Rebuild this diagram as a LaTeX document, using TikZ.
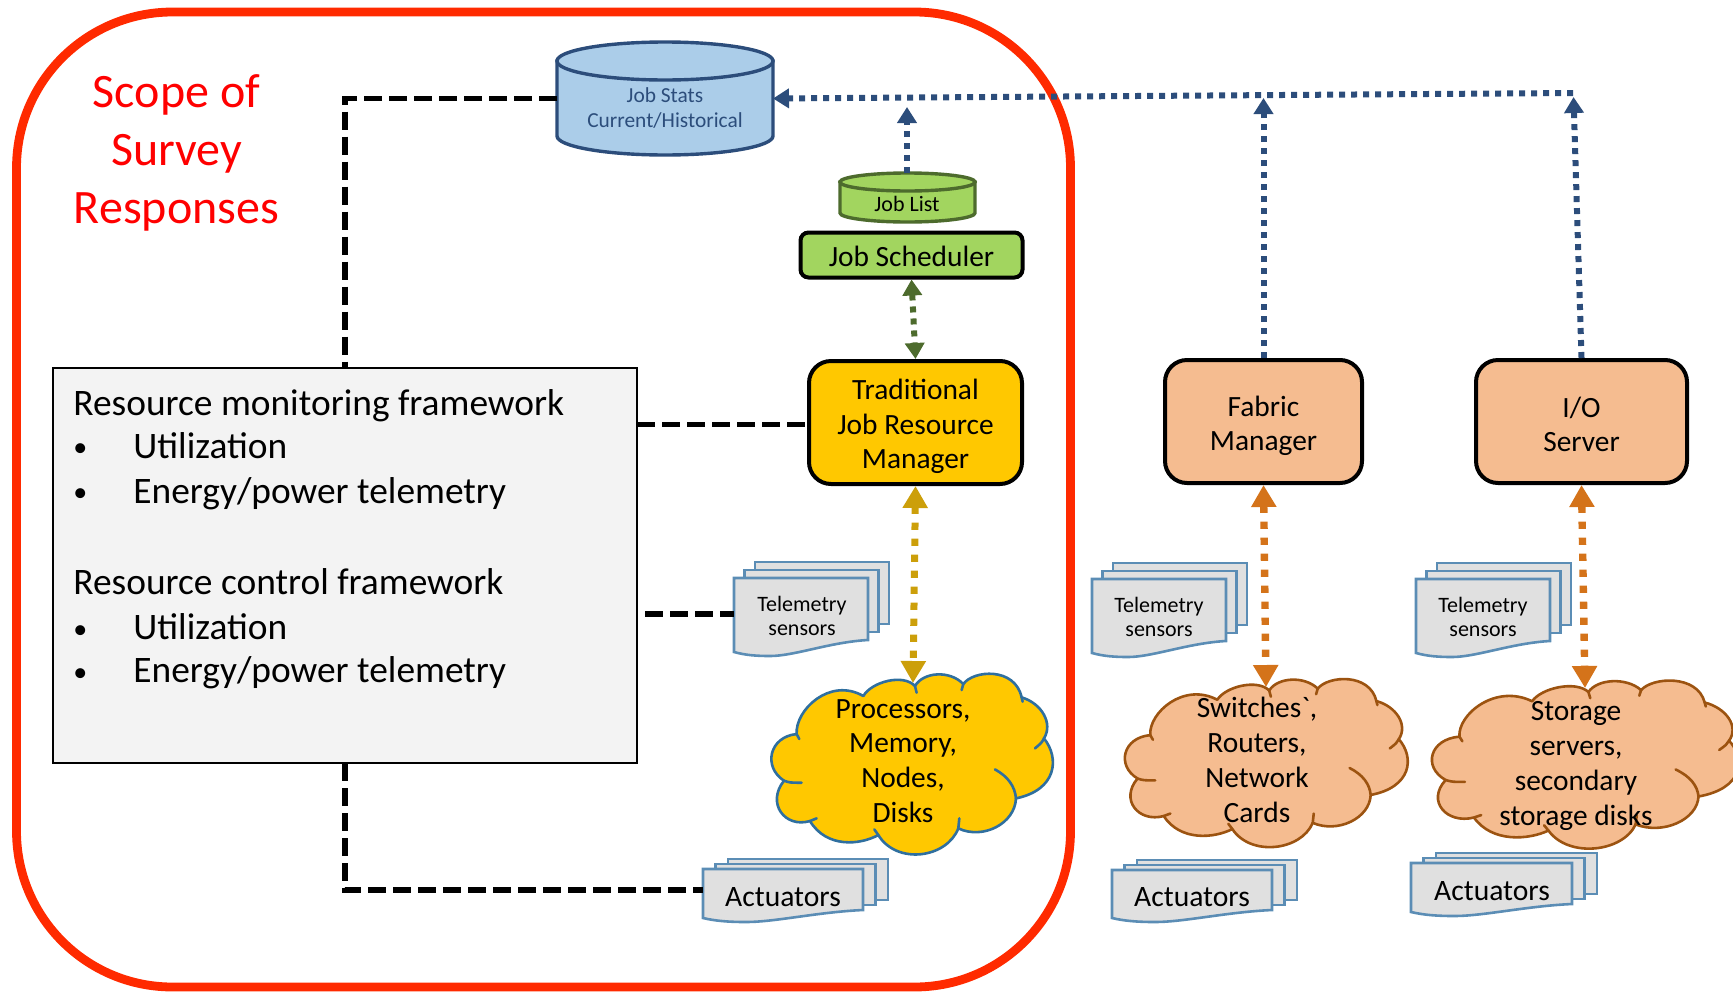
\documentclass[tikz,border=0pt]{standalone}
\usepackage{fontspec}
\setmainfont{Carlito}
\newfontfamily\rawf{Carlito}
\usetikzlibrary{arrows.meta,calc}
\definecolor{redline}{HTML}{FF2A00}
\definecolor{statsfill}{HTML}{ABCDE9}
\definecolor{bluedk}{HTML}{2C4D7B}
\definecolor{greenfill}{HTML}{A2D55F}
\definecolor{greendk}{HTML}{4D6B2D}
\definecolor{goldfill}{HTML}{FFC800}
\definecolor{golddk}{HTML}{CC9F0A}
\definecolor{peach}{HTML}{F5BC90}
\definecolor{orangedk}{HTML}{D4731A}
\definecolor{brownln}{HTML}{9C5310}
\definecolor{steel}{HTML}{5B8DB5}
\definecolor{steeldk}{HTML}{2F6F9F}
\definecolor{sheet}{HTML}{E0E0E0}
\definecolor{boxfill}{HTML}{F3F3F3}
\tikzset{
  blackdash/.style={black,line width=2.8pt,dash pattern=on 9pt off 3.5pt},
  bluedot/.style={bluedk,line width=3pt,dash pattern=on 3pt off 3pt},
  bluetip/.style={-{Triangle[length=8pt,width=9.5pt]}},
  greendot/.style={greendk,line width=3pt,dash pattern=on 3pt off 3pt,
     {Triangle[length=8pt,width=9.5pt]}-{Triangle[length=8pt,width=9.5pt]}},
  golddot/.style={golddk,line width=3.5pt,dash pattern=on 3.6pt off 4.4pt,
     {Triangle[length=11pt,width=12pt]}-{Triangle[length=11pt,width=12pt]}},
  orangedot/.style={orangedk,line width=3.7pt,dash pattern=on 3.6pt off 4.4pt,
     {Triangle[length=11pt,width=12pt]}-{Triangle[length=11pt,width=12pt]}},
  procbox/.style={draw=black,line width=2pt,rounded corners=11pt,inner sep=0pt,align=center},
  boxtext/.style={inner sep=0pt,align=center,font=\fontsize{14.7}{17.3}\selectfont},
  sheetline/.style={draw=steel,fill=sheet,line width=1.3pt,line join=miter},
  hold/.style={inner sep=0pt,outer sep=0pt},
  tlabel/.style={inner sep=0pt,align=center},
  cloudtext/.style={tlabel,font=\fontsize{14.7}{17.4}\selectfont},
  listtext/.style={inner sep=0pt,anchor=base west,font=\fontsize{18.7}{20}\selectfont},
  bullettext/.style={inner sep=0pt,anchor=base west,font=\fontsize{14}{16}\selectfont},
  teltext/.style={tlabel,font=\fontsize{11}{12}\selectfont},
  acttext/.style={tlabel,font=\fontsize{14.8}{16}\selectfont},
}
% cylinder: x1 x2 ytop(ellipse centre) ybottom ry fill stroke
\newcommand\drawcyl[7]{%
  \draw[fill=#6,draw=#7,line width=1.7pt]
    (#1,#3) -- (#1,{#4-#5})
    .. controls (#1,{#4-0.45*#5}) and ({#1+0.225*(#2-#1)},#4) .. ({(#1+#2)/2},#4)
    .. controls ({#2-0.225*(#2-#1)},#4) and (#2,{#4-0.45*#5}) .. (#2,{#4-#5})
    -- (#2,#3) -- cycle;
  \draw[fill=#6,draw=#7,line width=1.7pt]
    ({(#1+#2)/2},{#3}) ellipse[x radius={(#2-#1)/2},y radius=#5];
}
% sheet stack: x y w h dx dy depth
\newcommand\docstack[7]{%
  \draw[sheetline] ({#1+2*#5},{#2-2*#6}) rectangle ({#1+2*#5+#3},{#2-2*#6+#4});
  \draw[sheetline] ({#1+#5},{#2-#6}) rectangle ({#1+#5+#3},{#2-#6+#4});
  \draw[sheetline] (#1,#2) -- ({#1+#3},#2) -- ({#1+#3},{#2+#4})
    .. controls ({#1+0.72*#3},{#2+#4+2}) and ({#1+0.45*#3},{#2+#4+#7}) .. ({#1+0.27*#3},{#2+#4+#7})
    .. controls ({#1+0.16*#3},{#2+#4+#7}) and ({#1+0.08*#3},{#2+#4+#7-1}) .. (#1,{#2+#4+#7-4}) -- cycle;
}
% cloud: cx cy sx sy fill stroke
\newcommand\drawcloud[6]{%
  \begin{scope}[shift={(#1,#2)},xscale=#3/3,yscale=#4/3,shift={(-700,-680)},line width=1.3pt,line join=round]
  \draw[fill=#5,draw=#6] (350,582)
    .. controls (345,510) and (450,410) .. (550,468)
    .. controls (575,425) and (670,400) .. (705,438)
    .. controls (730,395) and (810,390) .. (850,432)
    .. controls (880,390) and (1005,380) .. (1025,472)
    .. controls (1085,490) and (1120,550) .. (1092,595)
    .. controls (1140,655) and (1130,750) .. (1008,775)
    .. controls (1005,850) and (910,900) .. (835,865)
    .. controls (800,955) and (650,975) .. (595,885)
    .. controls (540,915) and (440,925) .. (390,843)
    .. controls (315,865) and (258,790) .. (312,722)
    .. controls (248,680) and (268,590) .. (350,582) -- cycle;
  \draw[#6,line cap=round]
    (350,582) -- (358,597)
    (705,438) -- (710,458)
    (850,432) -- (845,450)
    (1025,472) -- (1028,485)
    (1092,595) .. controls (1085,608) .. (1065,625)
    (945,688) .. controls (985,710) and (1005,740) .. (1008,775)
    (835,865) -- (838,835)
    (595,885) -- (583,868)
    (390,843) -- (410,835)
    (312,722) .. controls (330,728) .. (365,728);
  \end{scope}%
}
\begin{document}
\begin{tikzpicture}[x=0.5pt,y=-0.5pt]
\clip (0,0) rectangle (1733,991);
\useasboundingbox (0,0) rectangle (1733,991);

% scope frame
\node[hold,draw=redline,line width=4.4pt,rounded corners=78pt,minimum width=527pt,minimum height=487.5pt] (frame) at (543.5,499.5) {};
\node[tlabel,text=red,font=\fontsize{24}{28.8}\selectfont] (scope) at (176.5,153) {Scope of\\Survey\\Responses};

% shape holders
\node[hold,minimum width=108pt,minimum height=56.5pt] (stats) at (665,98.5) {};
\node[hold,minimum width=68pt,minimum height=24.5pt] (joblist) at (907,197.5) {};
\drawcyl{557}{773}{61}{155}{19}{statsfill}{bluedk}
\drawcyl{840}{975}{182}{222}{9}{greenfill}{greendk}
\node[tlabel,text=bluedk,font=\fontsize{10.7}{12.2}\selectfont] (statstext) at (665,108) {Job Stats\\Current/Historical};
\node[tlabel,font=\fontsize{11}{12}\selectfont] (listtext) at (907,203.5) {Job List};

% process boxes
\node[procbox,fill=greenfill,rounded corners=4pt,minimum width=111pt,minimum height=22.5pt] (sched) at (911.5,255) {};
\node[procbox,fill=goldfill,minimum width=106.5pt,minimum height=61.5pt] (mgr) at (915.5,422.5) {};
\node[procbox,fill=peach,minimum width=98.5pt,minimum height=61.5pt] (fabric) at (1263.5,421.5) {};
\node[procbox,fill=peach,minimum width=105.5pt,minimum height=61.5pt] (io) at (1581.5,421.5) {};
\node[boxtext] (schedtext) at (911.5,256) {Job Scheduler};
\node[boxtext] (mgrtext) at (915.5,426.5) {Traditional\\Job Resource\\Manager};
\node[boxtext] (fabrictext) at (1263.5,426) {Fabric\\Manager};
\node[boxtext] (iotext) at (1581.5,424.5) {I/O\\Server};

% framework box
\node[hold,draw=black,fill=boxfill,line width=0.8pt,minimum width=292pt,minimum height=197.5pt] (box) at (345,565.5) {};
\node[listtext] (m0) at (73,415) {Resource monitoring framework};
\node[bullettext] (m1) at (73,456) {•};
\node[listtext] (m2) at (133,458) {Utilization};
\node[bullettext] (m3) at (73,501) {•};
\node[listtext] (m4) at (133,503) {Energy/power telemetry};
\node[listtext] (c0) at (73,594) {Resource control framework};
\node[bullettext] (c1) at (73,638) {•};
\node[listtext] (c2) at (133,639) {Utilization};
\node[bullettext] (c3) at (73,681) {•};
\node[listtext] (c4) at (133,682) {Energy/power telemetry};

% sensors and actuators
\docstack{734}{578}{134}{62}{10.5}{8}{16}
\docstack{1092}{579}{134}{62}{10.5}{8}{16}
\docstack{1416}{579}{134}{62}{10.5}{8}{16}
\docstack{703}{869}{160}{41}{12.5}{5}{12}
\docstack{1112}{870}{160}{40}{12.5}{5}{12}
\docstack{1411}{863}{161}{41}{12.5}{5}{12}
\node[teltext] (tel1) at (802,616) {Telemetry\\sensors};
\node[teltext] (tel2) at (1159,617) {Telemetry\\sensors};
\node[teltext] (tel3) at (1483,617) {Telemetry\\sensors};
\node[acttext] (act1) at (783,897) {Actuators};
\node[acttext] (act2) at (1192,897) {Actuators};
\node[acttext] (act3) at (1492,891) {Actuators};

% clouds
\drawcloud{913.3}{766.7}{1}{1}{goldfill}{steeldk}
\drawcloud{1267.5}{765.5}{1.005}{0.93}{peach}{brownln}
\drawcloud{1586.6}{767}{1.09}{0.93}{peach}{brownln}
\node[cloudtext] (cl1) at (903,761) {Processors,\\Memory,\\Nodes,\\Disks};
\node[cloudtext] (cl2) at (1257,760) {Switches{\rawf`},\\Routers,\\Network\\Cards};
\node[cloudtext] (cl3) at (1576,766) {Storage\\servers,\\secondary\\storage disks};

% connector end points
\coordinate (tel1w) at (734,614);
\coordinate (mgrw) at (809,424.5);
\coordinate (act1w) at (703,890);
\coordinate (elbowtop) at (345,98.5);
\coordinate (elbowbot) at (345,890);
\coordinate (bus) at (1573,93);
\coordinate (fabtip) at (1263.5,98);
\coordinate (iotip) at (1573.5,97);
\coordinate (listtip) at (907,107);
\coordinate (cl1top) at (913,683);
\coordinate (cl2top) at (1266,687);
\coordinate (cl3top) at (1585,688);

% connectors
\draw[blackdash] (stats.west) -- (elbowtop) -- (box.north -| elbowtop);
\draw[blackdash] (box.south -| elbowbot) -- (elbowbot) -- (act1w);
\draw[blackdash] (box.east |- mgrw) -- (mgrw);
\draw[blackdash,shorten <=4pt] (box.east |- tel1w) -- (tel1w);
\draw[bluedot,bluetip] (bus) -- (stats.east);
\draw[bluedot,bluetip] (joblist.north) -- (listtip);
\draw[bluedot,bluetip] (fabric.north) -- (fabtip);
\draw[bluedot,bluetip] (io.north) -- (iotip);
\draw[greendot] (sched.south) -- (mgr.north);
\draw[golddot] (mgr.south) -- (cl1top);
\draw[orangedot] (fabric.south) -- (cl2top);
\draw[orangedot] (io.south) -- (cl3top);
\end{tikzpicture}
\end{document}
